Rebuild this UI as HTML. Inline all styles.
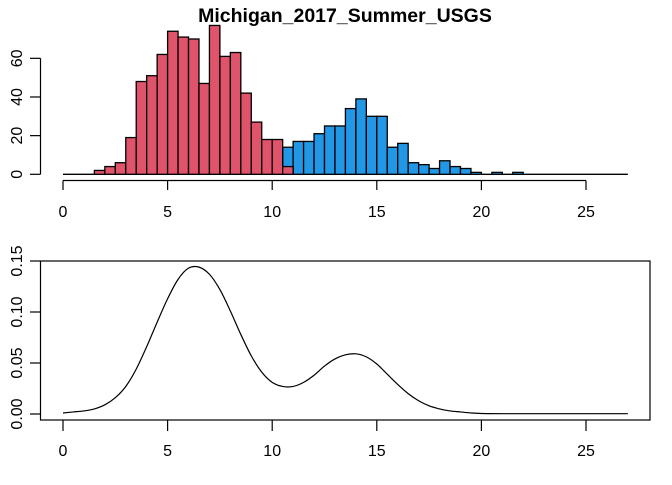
<!DOCTYPE html>
<html><head><meta charset="utf-8"><style>
body{margin:0;background:#fff}
svg text{font-family:"Liberation Sans",Arial,sans-serif;fill:#000}
</style></head><body>
<svg id="chart" width="672" height="480" xmlns="http://www.w3.org/2000/svg">
<text x="345" y="22" text-anchor="middle" font-size="19.5" font-weight="bold">Michigan_2017_Summer_USGS</text>
<g id="hist"></g>
<g id="dens"></g>
</svg>
<script>
const binWidth = 0.5;
const redStarts = [1.5,2,2.5,3,3.5,4,4.5,5,5.5,6,6.5,7,7.5,8,8.5,9,9.5,10,10.5];
const redCounts = [2,4,6,19,48,51,62,74,71,70,47,77,61,63,42,27,18,18,4];
const blueStarts = [10.5,11,11.5,12,12.5,13,13.5,14,14.5,15,15.5,16,16.5,17,17.5,18,18.5,19,19.5,20,20.5,21,21.5];
const blueCounts = [14,17,17,21,25,25,34,39,30,30,14,16,6,5,3,7,4,3,1,0,1,0,1];
const xTicks = [0,5,10,15,20,25];
const histYTicks = [0,20,40,60];
const densX = [0,0.5,1,1.5,2,2.5,3,3.5,4,4.5,5,5.5,6,6.5,7,7.5,8,8.5,9,9.5,10,10.5,11,11.5,12,12.5,13,13.5,14,14.5,15,15.5,16,16.5,17,17.5,18,18.5,19,19.5,20,21,22,23,24,25,26,27];
const densY = [0.001,0.002,0.003,0.005,0.009,0.016,0.027,0.044,0.066,0.090,0.113,0.132,0.143,0.144,0.137,0.122,0.101,0.078,0.057,0.041,0.031,0.027,0.027,0.031,0.038,0.047,0.054,0.058,0.059,0.056,0.049,0.039,0.029,0.020,0.013,0.008,0.005,0.003,0.002,0.001,0.0005,0.0003,0.0003,0.0003,0.0003,0.0003,0.0003,0.0003];
const densYTicks = [0,0.05,0.1,0.15];
const densYLabels = ["0.00","0.05","0.10","0.15"];

const NS="http://www.w3.org/2000/svg";
function el(tag,attrs,parent,text){const e=document.createElementNS(NS,tag);for(const k in attrs)e.setAttribute(k,attrs[k]);if(text!==undefined)e.textContent=text;parent.appendChild(e);return e;}
const sx = v => 63 + v*20.92;
const hy = v => 174.3 - v*1.933;
const dy = v => 414 - v*1020;
const FS = 16;

const H=document.getElementById('hist');
function drawBars(starts,counts,color,name){
  starts.forEach((s,i)=>{ if(counts[i]<=0) return;
    const r=el('rect',{x:sx(s),y:hy(counts[i]),width:sx(s+binWidth)-sx(s),height:hy(0)-hy(counts[i]),fill:color,stroke:'#000','stroke-width':1.3},H);
    
    
  });
}
let bl=el('line',{x1:sx(0),x2:sx(27),y1:hy(0),y2:hy(0),stroke:'#000','stroke-width':1.3},H);


drawBars(blueStarts,blueCounts,'#2297E6','blue');
drawBars(redStarts,redCounts,'#DF536B','red');
let ya=el('line',{x1:40.5,x2:40.5,y1:hy(0),y2:hy(60),stroke:'#000','stroke-width':1.2},H);


histYTicks.forEach(t=>{
  el('line',{x1:30,x2:40.5,y1:hy(t),y2:hy(t),stroke:'#000','stroke-width':1.2},H);
  const tx=el('text',{x:17,y:hy(t),'font-size':FS,'text-anchor':'middle',transform:`rotate(-90 17 ${hy(t)})`,dy:5},H,String(t));
  
  
});
let xa=el('line',{x1:sx(0),x2:sx(25),y1:180.5,y2:180.5,stroke:'#000','stroke-width':1.2},H);


xTicks.forEach(t=>{
  el('line',{x1:sx(t),x2:sx(t),y1:180.5,y2:190,stroke:'#000','stroke-width':1.2},H);
  const tx=el('text',{x:sx(t),y:217,'font-size':FS,'text-anchor':'middle'},H,String(t));
  
  
});

const D=document.getElementById('dens');
let box=el('rect',{x:40.5,y:261,width:609.5,height:159,fill:'none',stroke:'#000','stroke-width':1.2},D);


densYTicks.forEach((t,i)=>{
  el('line',{x1:30,x2:40.5,y1:dy(t),y2:dy(t),stroke:'#000','stroke-width':1.2},D);
  const tx=el('text',{x:17,y:dy(t),'font-size':FS,'text-anchor':'middle',transform:`rotate(-90 17 ${dy(t)})`,dy:5},D,densYLabels[i]);
  
  
});
xTicks.forEach(t=>{
  el('line',{x1:sx(t),x2:sx(t),y1:420,y2:431,stroke:'#000','stroke-width':1.2},D);
  const tx=el('text',{x:sx(t),y:456,'font-size':FS,'text-anchor':'middle'},D,String(t));
  
  
});
const pts=densX.map((x,i)=>[sx(x),dy(densY[i])]);
let d=`M${pts[0][0]},${pts[0][1]}`;
for(let i=0;i<pts.length-1;i++){
  const p0=pts[Math.max(0,i-1)],p1=pts[i],p2=pts[i+1],p3=pts[Math.min(pts.length-1,i+2)];
  d+=` C${p1[0]+(p2[0]-p0[0])/6},${p1[1]+(p2[1]-p0[1])/6} ${p2[0]-(p3[0]-p1[0])/6},${p2[1]-(p3[1]-p1[1])/6} ${p2[0]},${p2[1]}`;
}
const curve=el('path',{d:d,fill:'none',stroke:'#000','stroke-width':1.2},D);


</script>
</body></html>
